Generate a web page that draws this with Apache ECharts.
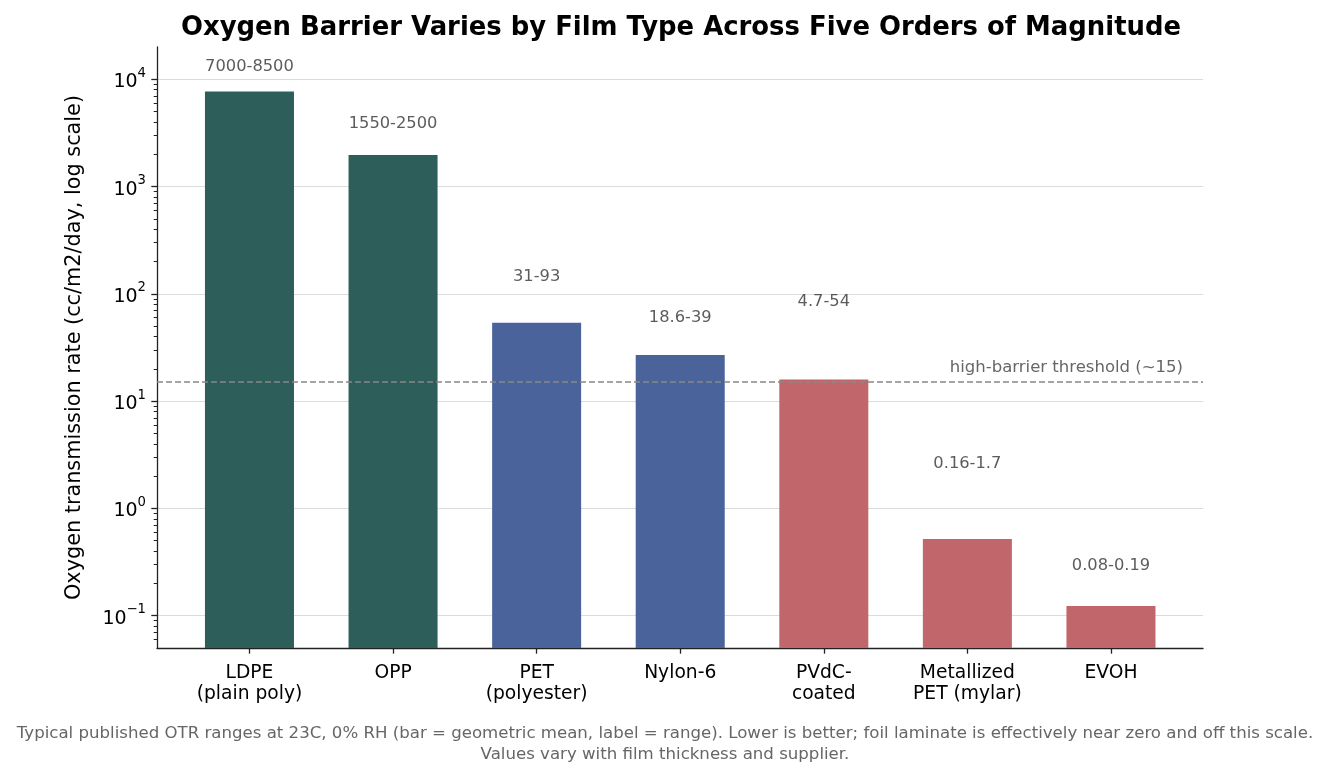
<!DOCTYPE html>
<html><head><meta charset="utf-8">
<script src="https://cdn.jsdelivr.net/npm/echarts@6/dist/echarts.min.js"></script>
<style>html,body{margin:0;padding:0;background:#fff}#c{width:1328px;height:779px}</style>
</head><body><div id="c"></div>
<script>
// ---- data ----
const categories = ['LDPE\n(plain poly)', 'OPP', 'PET\n(polyester)', 'Nylon-6', 'PVdC-\ncoated', 'Metallized\nPET (mylar)', 'EVOH'];
const barValues = [7714, 1968, 53.7, 26.9, 15.9, 0.52, 0.123];       // geometric mean (bar height)
const rangeHigh = [8500, 2500, 93, 39, 54, 1.7, 0.19];                 // top of published range
const rangeLabels = ['7000-8500', '1550-2500', '31-93', '18.6-39', '4.7-54', '0.16-1.7', '0.08-0.19'];
const thresholdValue = 15;
const thresholdLabel = 'high-barrier threshold (~15)';
const yTickValues = [0.1, 1, 10, 100, 1000, 10000];
const yMin = 0.05, yMax = 20000;

// ---- styles ----
const barColors = ['#2e5e5a', '#2e5e5a', '#4a639b', '#4a639b', '#c1666b', '#c1666b', '#c1666b'];
const FONT = 'DejaVu Sans';

const minorTicks = [];
for (let e = -2; e <= 4; e++) {
  for (let m = 2; m <= 9; m++) {
    const v = parseFloat((m * Math.pow(10, e)).toPrecision(6));
    if (v > yMin && v < yMax) minorTicks.push(v);
  }
}

const chart = echarts.init(document.getElementById('c'), null, {renderer: 'canvas'});
const axisColor = '#222';

function supLabel(value) {
  const e = Math.round(Math.log10(value));
  return '{b|10}{s|' + (e < 0 ? '\u2212' + (-e) : e) + '}';
}

chart.setOption({
  backgroundColor: '#fff',
  animation: false,
  title: [
    {
      text: 'Oxygen Barrier Varies by Film Type Across Five Orders of Magnitude',
      left: 676, top: 10, textAlign: 'center',
      textStyle: {fontFamily: FONT, fontSize: 25.9, fontWeight: 'bold', color: '#000'}
    },
    {
      text: 'Typical published OTR ranges at 23C, 0% RH (bar = geometric mean, label = range). Lower is better; foil laminate is effectively near zero and off this scale.\nValues vary with film thickness and supplier.',
      left: 660, top: 718, textAlign: 'center',
      textStyle: {fontFamily: FONT, fontSize: 16.6, fontWeight: 'normal', color: '#666', lineHeight: 21, align: 'center'}
    }
  ],
  grid: {left: 157, right: 125, top: 47, bottom: 131, containLabel: false},
  xAxis: {
    type: 'value', min: -0.644, max: 6.641,
    axisLine: {show: true, onZero: false, lineStyle: {color: axisColor, width: 1.3}},
    axisTick: {show: true, length: 5.7, lineStyle: {color: axisColor, width: 1.3}, customValues: [0, 1, 2, 3, 4, 5, 6]},
    axisLabel: {
      customValues: [0, 1, 2, 3, 4, 5, 6],
      formatter: v => categories[Math.round(v)] || '',
      fontFamily: FONT, fontSize: 18.7, color: '#000', lineHeight: 21, margin: 15
    },
    splitLine: {show: false}
  },
  yAxis: [
    {
      type: 'log', logBase: 10, min: yMin, max: yMax, position: 'left',
      name: 'Oxygen transmission rate (cc/m2/day, log scale)',
      nameLocation: 'middle', nameGap: 72, nameRotate: 90,
      nameTextStyle: {fontFamily: FONT, fontSize: 20.8, color: '#000'},
      axisLine: {show: true, onZero: false, lineStyle: {color: axisColor, width: 1.3}},
      axisTick: {show: true, length: 5.7, lineStyle: {color: axisColor, width: 1.3}, customValues: yTickValues},
      axisLabel: {
        customValues: yTickValues,
        formatter: supLabel, margin: 11,
        rich: {
          b: {fontFamily: FONT, fontSize: 19, color: '#000', lineHeight: 25, verticalAlign: 'bottom'},
          s: {fontFamily: FONT, fontSize: 13.2, color: '#000', lineHeight: 15, verticalAlign: 'top'}
        }
      },
      splitLine: {show: true, lineStyle: {color: '#dcdcdc', width: 1.2}}
    },
    {
      type: 'log', logBase: 10, min: yMin, max: yMax, position: 'left',
      axisLine: {show: false, onZero: false},
      axisTick: {show: true, length: 3.3, lineStyle: {color: axisColor, width: 1}, customValues: minorTicks},
      axisLabel: {show: false},
      splitLine: {show: false}
    }
  ],
  series: [
    {
      type: 'custom',
      name: 'OTR',
      data: barValues.map((v, i) => [i, v]),
      renderItem: (params, api) => {
        const i = api.value(0), v = api.value(1);
        const top = api.coord([i, v]);
        const base = api.coord([i, yMin]);
        const w = api.size([1, 1])[0] * 0.62;
        return {
          type: 'rect',
          shape: {x: top[0] - w / 2, y: top[1], width: w, height: base[1] - top[1]},
          style: {fill: barColors[i]}
        };
      },
      z: 2
    },
    {
      type: 'scatter',
      name: 'range',
      data: rangeHigh.map((v, i) => [i, v]),
      symbolSize: 1,
      itemStyle: {color: 'rgba(0,0,0,0)'},
      label: {
        show: true, position: 'inside', offset: [0, -20.4],
        formatter: p => rangeLabels[p.dataIndex],
        fontFamily: FONT, fontSize: 16.3, color: '#333'
      },
      z: 4,
      markLine: {
        silent: true, symbol: 'none', animation: false,
        lineStyle: {color: '#888', type: [6, 3], width: 1.6},
        label: {
          show: true, position: 'insideEndTop', distance: [20, 6],
          formatter: thresholdLabel,
          fontFamily: FONT, fontSize: 16.5, color: '#666'
        },
        data: [{yAxis: thresholdValue}]
      }
    }
  ]
});
</script>
</body></html>
